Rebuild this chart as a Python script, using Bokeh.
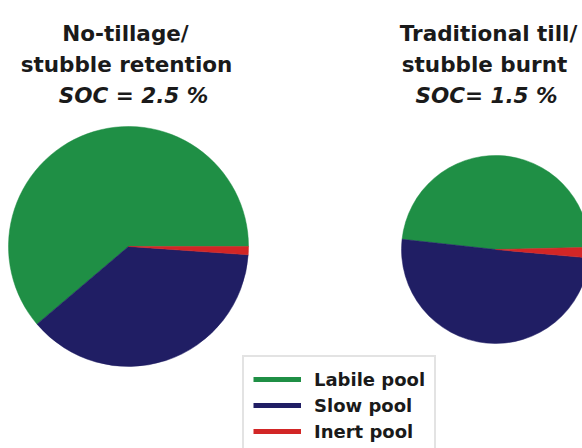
import math
from bokeh.plotting import figure
from bokeh.models import Range1d, Legend, LegendItem, ColumnDataSource
from bokeh.core.properties import value
from bokeh.embed import file_html
from bokeh.resources import INLINE

# ---- data ----
categories = ["Labile pool", "Slow pool", "Inert pool"]
no_till_share = [61.2, 37.7, 1.1]        # % of SOC, no-tillage / stubble retention
trad_till_share = [47.9, 50.3, 1.8]      # % of SOC, traditional till / stubble burnt
no_till_title = ["No-tillage/", "stubble retention", "SOC = 2.5 %"]
trad_till_title = ["Traditional till/", "stubble burnt", "SOC= 1.5 %"]

# ---- styles ----
colors = ["#1f8f45", "#201e64", "#d22626"]
W, H = 582, 448
FONT = value("DejaVu Sans")

p = figure(width=W, height=H, output_backend="svg", toolbar_location=None,
           x_range=Range1d(0, W), y_range=Range1d(0, H),
           min_border=0, outline_line_color=None, background_fill_color="white",
           border_fill_color="white")
p.axis.visible = False
p.grid.visible = False


def pie(shares, cx, cy_px, r, start_deg):
    total = sum(shares)
    starts, ends = [], []
    a = math.radians(start_deg)
    for s in shares:
        starts.append(a)
        a += 2 * math.pi * s / total
        ends.append(a)
    src = ColumnDataSource(dict(start=starts, end=ends, color=colors, cat=categories))
    p.wedge(x=cx, y=H - cy_px, radius=r, start_angle="start", end_angle="end",
            fill_color="color", line_color="color", line_width=0.5, source=src)


pie(no_till_share, 128, 246, 120, 0.0)
pie(trad_till_share, 495, 249, 94, 1.3)


def title(lines, xs):
    baselines = [33, 64, 95]
    styles = ["bold", "bold", "bold italic"]
    for line, x, b, st in zip(lines, xs, baselines, styles):
        p.text(x=[x], y=[H - b], text=[line], text_font=FONT, text_font_style=st,
               text_font_size="21.5px", text_align="center",
               text_baseline="alphabetic", text_color="#1a1a1a")


title(no_till_title, [125, 126, 133])
title(trad_till_title, [488, 484, 486])

# legend (line swatches); the proxy lines lie outside the visible range
items = []
for cat, col in zip(categories, colors):
    r = p.line(x=[-50, -40], y=[-50, -50], line_color=col, line_width=5)
    items.append(LegendItem(label=cat, renderers=[r]))

leg = Legend(items=items, location=(242, H - 358 - 97), orientation="vertical",
             padding=9, margin=0, spacing=0,
             glyph_width=48, glyph_height=26, label_height=26, label_standoff=13,
             label_text_font="DejaVu Sans", label_text_font_style="bold",
             label_text_font_size="18px", label_text_color="#1a1a1a",
             border_line_color="#c8c8c8", border_line_width=2,
             background_fill_color="white", background_fill_alpha=1.0)
p.add_layout(leg, "center")

open("out.html", "w").write(file_html(p, INLINE))
